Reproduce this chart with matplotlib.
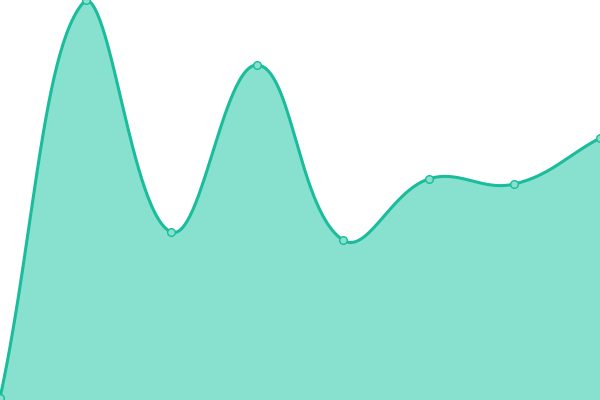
import numpy as np
import matplotlib
matplotlib.use("Agg")
import matplotlib.pyplot as plt

categories = [0, 1, 2, 3, 4, 5, 6, 7]
values = [2, 400, 168, 335, 160, 221, 216, 262]

LINE = "#1abc9c"
FILL = "#88e0cf"

fig = plt.figure(figsize=(6, 4), dpi=100)
ax = fig.add_axes([0, 0, 1, 1])
ax.set_xlim(0, 7)
ax.set_ylim(0, 400)
ax.axis("off")

# Chart.js-like spline (tension 0.4), computed in display space
xs = np.array(categories, dtype=float)
ys = np.array(values, dtype=float)
pts = ax.transData.transform(np.column_stack([xs, ys]))
t = 0.4
n = len(pts)
cprev = np.zeros_like(pts)
cnext = np.zeros_like(pts)
for i in range(n):
    p0 = pts[i - 1] if i > 0 else pts[i]
    p1 = pts[i]
    p2 = pts[i + 1] if i < n - 1 else pts[i]
    d01 = np.hypot(*(p1 - p0))
    d12 = np.hypot(*(p2 - p1))
    s01 = d01 / (d01 + d12) if d01 + d12 > 0 else 0
    s12 = d12 / (d01 + d12) if d01 + d12 > 0 else 0
    fa, fb = t * s01, t * s12
    cprev[i] = p1 - fa * (p2 - p0)
    cnext[i] = p1 + fb * (p2 - p0)
bbox = ax.bbox
lo = np.array([bbox.x0, bbox.y0])
hi = np.array([bbox.x1, bbox.y1])
cprev = np.clip(cprev, lo, hi)
cnext = np.clip(cnext, lo, hi)

curve = []
tt = np.linspace(0, 1, 60)[:, None]
for i in range(n - 1):
    P0, P1, P2, P3 = pts[i], cnext[i], cprev[i + 1], pts[i + 1]
    seg = ((1 - tt) ** 3) * P0 + 3 * ((1 - tt) ** 2) * tt * P1 + 3 * (1 - tt) * tt ** 2 * P2 + tt ** 3 * P3
    curve.append(seg if i == 0 else seg[1:])
curve = np.vstack(curve)
curve_data = ax.transData.inverted().transform(curve)

ax.fill_between(curve_data[:, 0], 0, curve_data[:, 1], color=FILL, lw=0, zorder=1)
ax.plot(curve_data[:, 0], curve_data[:, 1], color=LINE, lw=2.2, zorder=2,
        solid_capstyle="round", clip_on=False)
ax.plot(xs, ys, "o", ms=5.5, mfc=FILL, mec=LINE, mew=1, zorder=3, clip_on=False)

fig.savefig("out.png", dpi=100)
